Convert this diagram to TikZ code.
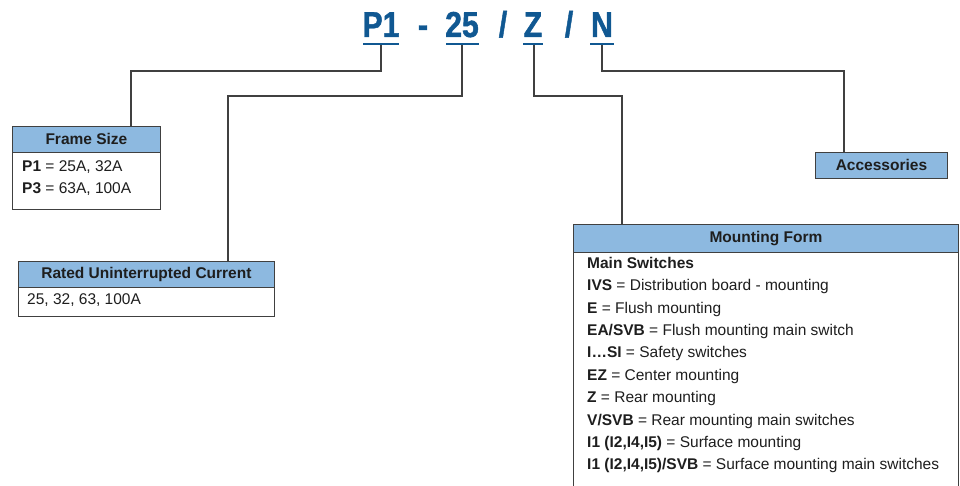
\documentclass[tikz,border=0pt]{standalone}
\usepackage{fontspec}
\setmainfont{Liberation Sans}
\newfontfamily\titlefont{Liberation Sans}[FakeStretch=0.84, BoldFeatures={FakeBold=1.2}]
\definecolor{hblue}{RGB}{141,185,224}
\definecolor{tblue}{RGB}{16,88,146}
\definecolor{lgray}{RGB}{64,64,64}
\definecolor{txtc}{RGB}{30,30,30}
\begin{document}
\begin{tikzpicture}[x=1pt,y=-1pt,
  ttl/.style={font=\titlefont\bfseries\fontsize{36}{36}\selectfont, text=tblue, inner sep=0pt, anchor=base},
  uline/.style={draw=tblue, line width=2.6pt},
  conn/.style={draw=lgray, line width=1.3pt},
  hdr/.style={draw=lgray, line width=0.9pt, fill=hblue, anchor=north west, inner sep=0pt, font=\bfseries\fontsize{15.5}{18}\selectfont, text=txtc},
  bodybox/.style={draw=lgray, line width=0.9pt, fill=white, anchor=north west, inner sep=0pt},
  txt/.style={anchor=base west, inner sep=0pt, font=\fontsize{15.5}{18}\selectfont, text=txtc}]
\useasboundingbox (0,0) rectangle (960,486);
\fill[white] (0,0) rectangle (960,486);

% title
\node[ttl] (t1) at (381,37) {P1};
\node[ttl] (td) at (423,37) {-};
\node[ttl] (t2) at (462,37) {25};
\node[ttl] (ts1) at (503,37) {/};
\node[ttl] (t3) at (533,37) {Z};
\node[ttl] (ts2) at (569,37) {/};
\node[ttl] (t4) at (602,37) {N};
\draw[uline] (363,44) -- (399,44);
\draw[uline] (446,44) -- (479,44);
\draw[uline] (523,44) -- (543,44);
\draw[uline] (590,44) -- (614,44);
\coordinate (u1) at (381,45);
\coordinate (u2) at (462,45);
\coordinate (u3) at (534,45);
\coordinate (u4) at (602,45);
\coordinate (j1) at (131,71);
\coordinate (j2) at (228,96);
\coordinate (j3) at (622,96);
\coordinate (j4) at (844,71);

% Frame Size
\node[bodybox, minimum width=148pt, minimum height=57pt] (fsb) at (12,152) {};
\node[hdr, minimum width=148pt, minimum height=26pt] (fsh) at (12,126) {Frame Size};
\node[txt] (fs1) at (22,171.5) {\textbf{P1} = 25A, 32A};
\node[txt] (fs2) at (22,193.5) {\textbf{P3} = 63A, 100A};

% Rated
\node[bodybox, minimum width=256pt, minimum height=29pt] (rb) at (18,287) {};
\node[hdr, minimum width=256pt, minimum height=26pt] (rh) at (18,261) {Rated Uninterrupted Current};
\node[txt] (r1) at (27,304.5) {25, 32, 63, 100A};

% Accessories
\node[hdr, minimum width=132pt, minimum height=26pt] (acc) at (815,152) {Accessories};

% Mounting Form
\begin{scope}
\clip (0,0) rectangle (960,486);
\node[bodybox, minimum width=385pt, minimum height=260pt] (mb) at (573,252) {};
\end{scope}
\node[hdr, minimum width=385pt, minimum height=28pt] (mh) at (573,224) {Mounting Form};
\node[txt] (m0) at (587,268.3) {\textbf{Main Switches}};
\node[txt] (m1) at (587,290.7) {\textbf{IVS} = Distribution board - mounting};
\node[txt] (m2) at (587,313.1) {\textbf{E} = Flush mounting};
\node[txt] (m3) at (587,335.5) {\textbf{EA/SVB} = Flush mounting main switch};
\node[txt] (m4) at (587,357.9) {\textbf{I…SI} = Safety switches};
\node[txt] (m5) at (587,380.3) {\textbf{EZ} = Center mounting};
\node[txt] (m6) at (587,402.7) {\textbf{Z} = Rear mounting};
\node[txt] (m7) at (587,425.1) {\textbf{V/SVB} = Rear mounting main switches};
\node[txt] (m8) at (587,447.5) {\textbf{I1 (I2,I4,I5)} = Surface mounting};
\node[txt] (m9) at (587,469.9) {\textbf{I1 (I2,I4,I5)/SVB} = Surface mounting main switches};

% connectors
\draw[conn] (u1) |- (j1) -- (fsh.north -| j1);
\draw[conn] (u2) |- (j2) -- (rh.north -| j2);
\draw[conn] (u3) |- (j3) -- (mh.north -| j3);
\draw[conn] (u4) |- (j4) -- (acc.north -| j4);
\end{tikzpicture}
\end{document}
